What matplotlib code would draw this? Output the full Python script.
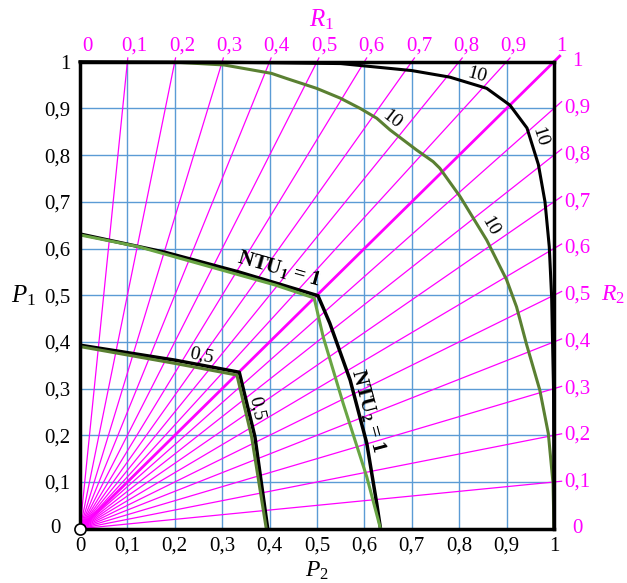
import numpy as np
import matplotlib
matplotlib.use("Agg")
import matplotlib.pyplot as plt

plt.rcParams['font.family'] = ['Liberation Serif', 'DejaVu Serif']
plt.rcParams['mathtext.fontset'] = 'custom'
plt.rcParams['mathtext.rm'] = 'Liberation Serif'
plt.rcParams['mathtext.it'] = 'Liberation Serif:italic'
plt.rcParams['mathtext.bf'] = 'Liberation Serif:bold'

MAGENTA = '#ff00ff'
GRID = '#5b9bd5'
GREEN_DARK = '#5a8032'
GREEN_LIGHT = '#69a544'

# scale values
ticks = [0, 0.1, 0.2, 0.3, 0.4, 0.5, 0.6, 0.7, 0.8, 0.9, 1.0]
tick_labels = ['0', '0,1', '0,2', '0,3', '0,4', '0,5', '0,6', '0,7', '0,8', '0,9', '1']
r_rays = [0.1, 0.2, 0.3, 0.4, 0.5, 0.6, 0.7, 0.8, 0.9]

# NTU = 10, black curve
p2_black10 = [0, 0.3, 0.55, 0.7, 0.78, 0.858, 0.907, 0.943, 0.967, 0.981, 0.99, 0.995, 0.999, 1.0]
p1_black10 = [1.0, 0.999, 0.996, 0.981, 0.967, 0.943, 0.907, 0.858, 0.78, 0.7, 0.604, 0.497, 0.3, 0.0]

# NTU = 10, green curve
p2_green10 = [0, 0.2, 0.304, 0.404, 0.436, 0.499, 0.549, 0.591, 0.626, 0.654, 0.710, 0.745,
              0.759, 0.802, 0.858, 0.900, 0.921, 0.942, 0.970, 0.988, 0.998, 1.0]
p1_green10 = [1.0, 0.999, 0.993, 0.975, 0.964, 0.943, 0.922, 0.900, 0.879, 0.854, 0.811, 0.786,
              0.772, 0.711, 0.618, 0.533, 0.475, 0.395, 0.297, 0.204, 0.097, 0.0]

# NTU = 1
p2_black1 = [0, 0.179, 0.334, 0.502, 0.527, 0.570, 0.605, 0.626, 0.634]
p1_black1 = [0.631, 0.592, 0.550, 0.499, 0.440, 0.318, 0.183, 0.054, 0.0]
p2_green1 = [0, 0.123, 0.411, 0.494, 0.513, 0.555, 0.605, 0.634]
p1_green1 = [0.629, 0.604, 0.522, 0.494, 0.411, 0.269, 0.111, 0.0]

# NTU = 0.5
p2_black05 = [0, 0.2, 0.336, 0.369, 0.396]
p1_black05 = [0.393, 0.361, 0.335, 0.197, 0.0]
p2_green05 = [0, 0.2, 0.331, 0.362, 0.393]
p1_green05 = [0.390, 0.354, 0.329, 0.197, 0.0]

fig = plt.figure(figsize=(6.27, 5.83), dpi=100)
ax = fig.add_axes([80 / 627, 1 - 528.7 / 583, 474 / 627, 467 / 583])
ax.set_xlim(0, 1)
ax.set_ylim(0, 1)

ax.set_xticks(ticks)
ax.set_xticklabels(tick_labels, fontsize=15)
ax.set_yticks(ticks)
ax.set_yticklabels([''] + tick_labels[1:], fontsize=15)
ax.tick_params(axis='both', length=0)
ax.tick_params(axis='x', pad=6)
ax.tick_params(axis='y', pad=7)
ax.grid(True, color=GRID, lw=1.0, zorder=0)
ax.set_axisbelow(True)
for s in ax.spines.values():
    s.set_linewidth(2.5)
    s.set_zorder(6)
# left "0" sits a bit further out, clear of the origin circle
ax.text(-0.04, 0.0, tick_labels[0], fontsize=15, ha='right', va='center', clip_on=False)

# magenta rays
for r in r_rays:
    ax.plot([0, r * 1.008], [0, 1.008], color=MAGENTA, lw=0.9, clip_on=False, zorder=2)
    ax.plot([0, 1.016], [0, r * 1.016], color=MAGENTA, lw=0.9, clip_on=False, zorder=2)
ax.plot([0, 1.012], [0, 1.012], color=MAGENTA, lw=2.0, clip_on=False, zorder=2)

# R1 / R2 scale labels
for t, lab in zip(ticks, tick_labels):
    ax.text(t + 0.015, 1.033, lab, color=MAGENTA, fontsize=15, ha='center', va='center',
            clip_on=False)
    ax.text(1.05, t, lab, color=MAGENTA, fontsize=15, ha='center', va='center', clip_on=False)

# curves
ax.plot(p2_green10, p1_green10, color=GREEN_DARK, lw=2.2, zorder=4)
ax.plot(p2_black10, p1_black10, color='black', lw=2.2, zorder=4, clip_on=False)
ax.plot(p2_black1, p1_black1, color='black', lw=2.5, zorder=4)
ax.plot(p2_green1, p1_green1, color=GREEN_LIGHT, lw=2.2, zorder=4)
ax.plot(p2_black05, p1_black05, color='black', lw=2.5, zorder=4)
ax.plot(p2_green05, p1_green05, color=GREEN_DARK, lw=2.2, zorder=4)

# origin marker
ax.plot([0], [0], marker='o', ms=8, mfc='white', mec='black', mew=1.2, clip_on=False, zorder=8)

# curve labels
ax.text(0.42, 0.556, r'NTU$_{\mathbf{1}}$ = 1', fontsize=15, fontweight='bold', rotation=-16,
        ha='center', va='center', zorder=5)
ax.text(0.608, 0.252, r'NTU$_{\mathbf{2}}$ = 1', fontsize=15, fontweight='bold', rotation=-75,
        ha='center', va='center', zorder=5)
ax.text(0.257, 0.372, '0,5', fontsize=14, rotation=-12, ha='center', va='center', zorder=5)
ax.text(0.373, 0.258, '0,5', fontsize=14, rotation=-78, ha='center', va='center', zorder=5)
ax.text(0.837, 0.972, '10', fontsize=14, rotation=-15, ha='center', va='center', zorder=5)
ax.text(0.970, 0.839, '10', fontsize=14, rotation=-72, ha='center', va='center', zorder=5)
ax.text(0.658, 0.877, '10', fontsize=14, rotation=-38, ha='center', va='center', zorder=5)
ax.text(0.865, 0.647, '10', fontsize=14, rotation=-60, ha='center', va='center', zorder=5)

# axis names
ax.text(-0.12, 0.5, r'$P_\mathrm{1}$', fontsize=18, ha='center', va='center', clip_on=False)
ax.text(0.5, -0.091, r'$P_\mathrm{2}$', fontsize=17, ha='center', va='center', clip_on=False)
ax.text(0.51, 1.09, r'$R_\mathrm{1}$', fontsize=18, color=MAGENTA, ha='center', va='center',
        clip_on=False)
ax.text(1.125, 0.5, r'$R_\mathrm{2}$', fontsize=17, color=MAGENTA, ha='center', va='center',
        clip_on=False)

fig.savefig('out.png', dpi=100)
